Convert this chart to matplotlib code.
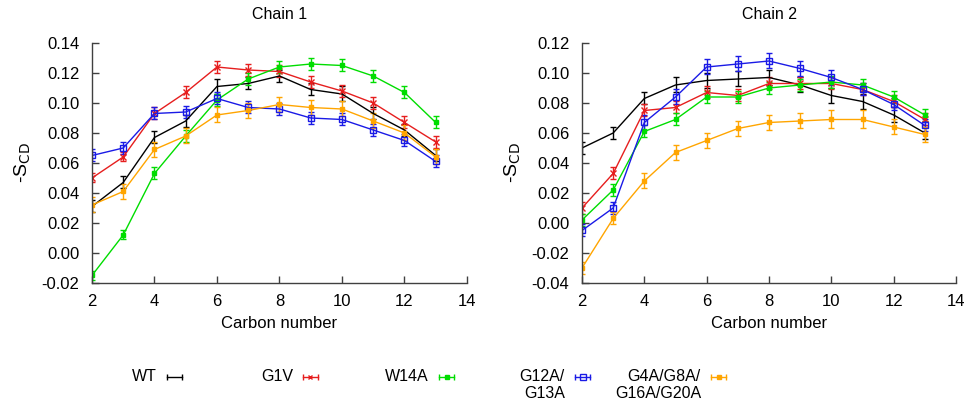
import matplotlib
matplotlib.use("Agg")
import matplotlib.pyplot as plt
from matplotlib.lines import Line2D

plt.rcParams['font.family'] = ['Liberation Sans', 'DejaVu Sans']

carbon = [2, 3, 4, 5, 6, 7, 8, 9, 10, 11, 12, 13]

labels = ["WT", "G1V", "W14A", "G12A/\nG13A", "G4A/G8A/\nG16A/G20A"]
colors = ["#000000", "#e61e1e", "#00dd00", "#1a1ae6", "#ffa500"]
markers = ["", "x", "s", "s", "s"]
filled = [True, True, True, False, True]

# chain 1  (-S_CD)
c1_wt = [0.031, 0.047, 0.077, 0.088, 0.111, 0.113, 0.118, 0.109, 0.106, 0.093, 0.082, 0.065]
c1_g1v = [0.050, 0.064, 0.093, 0.107, 0.124, 0.122, 0.121, 0.114, 0.108, 0.100, 0.087, 0.074]
c1_w14a = [-0.015, 0.012, 0.053, 0.078, 0.102, 0.116, 0.124, 0.126, 0.125, 0.118, 0.107, 0.087]
c1_g12a = [0.065, 0.070, 0.093, 0.094, 0.103, 0.097, 0.096, 0.090, 0.089, 0.082, 0.075, 0.061]
c1_g4a = [0.032, 0.041, 0.069, 0.078, 0.092, 0.095, 0.099, 0.097, 0.096, 0.088, 0.080, 0.064]

c1_wt_err = [0.004, 0.004, 0.004, 0.004, 0.005, 0.004, 0.004, 0.004, 0.005, 0.004, 0.004, 0.004]
c1_g1v_err = [0.003, 0.003, 0.004, 0.004, 0.004, 0.004, 0.004, 0.004, 0.004, 0.004, 0.004, 0.004]
c1_w14a_err = [0.003, 0.003, 0.004, 0.004, 0.004, 0.004, 0.004, 0.004, 0.004, 0.004, 0.004, 0.004]
c1_g12a_err = [0.004, 0.004, 0.004, 0.004, 0.004, 0.004, 0.004, 0.004, 0.004, 0.004, 0.004, 0.004]
c1_g4a_err = [0.005, 0.005, 0.005, 0.005, 0.005, 0.005, 0.005, 0.005, 0.005, 0.005, 0.005, 0.005]

# chain 2  (-S_CD)
c2_wt = [0.050, 0.060, 0.083, 0.092, 0.095, 0.096, 0.097, 0.092, 0.085, 0.081, 0.072, 0.060]
c2_g1v = [0.010, 0.033, 0.075, 0.077, 0.087, 0.085, 0.093, 0.093, 0.093, 0.089, 0.081, 0.069]
c2_w14a = [0.002, 0.022, 0.061, 0.069, 0.084, 0.084, 0.090, 0.092, 0.094, 0.092, 0.084, 0.072]
c2_g12a = [-0.005, 0.010, 0.067, 0.084, 0.104, 0.106, 0.108, 0.103, 0.097, 0.089, 0.079, 0.065]
c2_g4a = [-0.030, 0.003, 0.028, 0.047, 0.055, 0.063, 0.067, 0.068, 0.069, 0.069, 0.064, 0.059]

c2_wt_err = [0.004, 0.004, 0.004, 0.005, 0.005, 0.005, 0.005, 0.005, 0.005, 0.005, 0.005, 0.004]
c2_g1v_err = [0.004, 0.004, 0.004, 0.004, 0.004, 0.004, 0.004, 0.004, 0.004, 0.004, 0.004, 0.004]
c2_w14a_err = [0.004, 0.004, 0.004, 0.004, 0.004, 0.004, 0.004, 0.004, 0.004, 0.004, 0.004, 0.004]
c2_g12a_err = [0.004, 0.004, 0.005, 0.005, 0.005, 0.005, 0.005, 0.005, 0.005, 0.004, 0.004, 0.004]
c2_g4a_err = [0.004, 0.004, 0.005, 0.005, 0.005, 0.005, 0.005, 0.005, 0.006, 0.006, 0.005, 0.005]

chain1 = [(c1_wt, c1_wt_err), (c1_g1v, c1_g1v_err), (c1_w14a, c1_w14a_err),
          (c1_g12a, c1_g12a_err), (c1_g4a, c1_g4a_err)]
chain2 = [(c2_wt, c2_wt_err), (c2_g1v, c2_g1v_err), (c2_w14a, c2_w14a_err),
          (c2_g12a, c2_g12a_err), (c2_g4a, c2_g4a_err)]

axis_col = "#404040"


def draw_panel(ax, data, title, ylim, yticks):
	for i in range(len(data)):
		vals, errs = data[i]
		ms = 4 if markers[i] == "x" else (3.5 if filled[i] else 5)
		ax.errorbar(carbon, vals, yerr=errs, color=colors[i], lw=1.0,
			marker=markers[i] if markers[i] else None, ms=ms, mew=1.0,
			mfc=colors[i] if filled[i] else "none", capsize=2.5, elinewidth=1.0)
	ax.set_xlim(2, 14)
	ax.set_ylim(*ylim)
	ax.set_xticks([2, 4, 6, 8, 10, 12, 14])
	ax.set_yticks(yticks)
	ax.set_yticklabels(["%.2f" % v for v in yticks])
	ax.spines["top"].set_visible(False)
	ax.spines["right"].set_visible(False)
	for s in ["left", "bottom"]:
		ax.spines[s].set_color(axis_col)
		ax.spines[s].set_linewidth(1.0)
	ax.tick_params(direction="in", length=5, width=1.0, color=axis_col, labelsize=12)
	ax.tick_params(axis="y", pad=9)
	ax.tick_params(axis="x", pad=8)
	ax.set_title(title, fontsize=11.5, pad=17)
	ax.set_xlabel("Carbon number", fontsize=12, labelpad=5)
	ax.set_ylabel(r"-S$_{\mathrm{CD}}$", fontsize=14, labelpad=6)


fig = plt.figure(figsize=(9.7, 4.03), dpi=100)
ax1 = fig.add_axes([0.0948, 0.2978, 0.3866, 0.5955])
ax2 = fig.add_axes([0.6, 0.2978, 0.3856, 0.5955])

draw_panel(ax1, chain1, "Chain 1", (-0.02, 0.14), [-0.02, 0.0, 0.02, 0.04, 0.06, 0.08, 0.10, 0.12, 0.14])
draw_panel(ax2, chain2, "Chain 2", (-0.04, 0.12), [-0.04, -0.02, 0.0, 0.02, 0.04, 0.06, 0.08, 0.10, 0.12])

# gnuplot style key along the bottom
key_right = 157.0
key_step = 136.0
key_y = 1 - 377.0 / 403
for i in range(len(labels)):
	xr = (key_right + key_step * i) / 970.0
	fig.text(xr, key_y + 0.02, labels[i], ha="right", va="top", fontsize=11.5,
		multialignment="right", linespacing=1.2)
	x0 = xr + 10 / 970.0
	x1 = xr + 25 / 970.0
	fig.add_artist(Line2D([x0, x1], [key_y, key_y], color=colors[i], lw=1.0,
		marker="|", ms=4, transform=fig.transFigure))
	if markers[i]:
		ms = 3.5 if markers[i] == "x" else (3 if filled[i] else 4)
		fig.add_artist(Line2D([(x0 + x1) / 2], [key_y], color=colors[i], lw=0,
			marker=markers[i], ms=ms, mew=1.0,
			mfc=colors[i] if filled[i] else "none", transform=fig.transFigure))

plt.savefig("out.png", dpi=100)
